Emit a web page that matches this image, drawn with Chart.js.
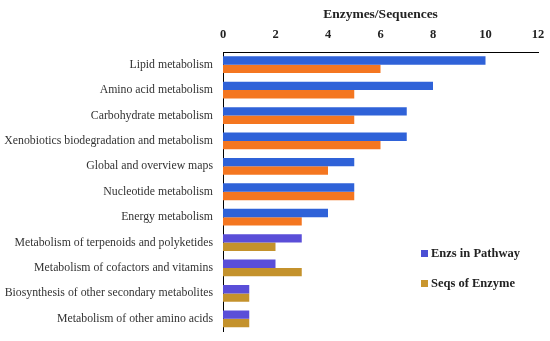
<!DOCTYPE html>
<html>
<head>
<meta charset="utf-8">
<script src="https://cdn.jsdelivr.net/npm/chart.js@4"></script>
<style>
  html, body { margin: 0; padding: 0; background: #fff; }
  #wrap { position: relative; width: 550px; height: 341px; }
  #pathChart { display: block; }
  #legend { position: absolute; left: 421px; top: 246px; font: bold 12.5px "Liberation Serif", serif; color: #222; }
  #legend div { height: 30px; display: flex; align-items: flex-start; }
  #legend span { display: inline-block; width: 7px; height: 7px; margin: 4px 3px 0 0; }
</style>
</head>
<body>
<div id="wrap">
  <canvas id="pathChart" width="550" height="341"></canvas>
  <div id="legend">
    <div><span style="background:#4b4fd4"></span>Enzs in Pathway</div>
    <div><span style="background:#c9962e"></span>Seqs of Enzyme</div>
  </div>
</div>
<script>
// categories and counts
const pathways = [
    "Lipid metabolism",
    "Amino acid metabolism",
    "Carbohydrate metabolism",
    "Xenobiotics biodegradation and metabolism",
    "Global and overview maps",
    "Nucleotide metabolism",
    "Energy metabolism",
    "Metabolism of terpenoids and polyketides",
    "Metabolism of cofactors and vitamins",
    "Biosynthesis of other secondary metabolites",
    "Metabolism of other amino acids"
];
const enzsInPathway = [10, 8, 7, 7, 5, 5, 4, 3, 2, 1, 1];
const seqsOfEnzyme = [6, 5, 5, 6, 4, 5, 3, 2, 3, 1, 1];
const xTicks = [0, 2, 4, 6, 8, 10, 12];

// bars toward the bottom look more purple / gold in the original
const blueCols = pathways.map((p, i) => i < 7 ? "#2f62d8" : "#5a4ed8");
const orangeCols = pathways.map((p, i) => i < 7 ? "#f47620" : "#c4922c");

new Chart(document.getElementById("pathChart"), {
    type: "bar",
    data: {
        labels: pathways,
        datasets: [{
            label: "Enzs in Pathway",
            data: enzsInPathway,
            backgroundColor: blueCols,
            barPercentage: 1,
            categoryPercentage: 0.66
        }, {
            label: "Seqs of Enzyme",
            data: seqsOfEnzyme,
            backgroundColor: orangeCols,
            barPercentage: 1,
            categoryPercentage: 0.66
        }]
    },
    options: {
        indexAxis: "y",
        responsive: false,
        animation: false,
        layout: { padding: { top: 6, right: 12, bottom: 9.5, left: 0 } },
        plugins: { legend: { display: false }, tooltip: { enabled: false } },
        scales: {
            x: {
                position: "top",
                min: 0,
                max: 12,
                afterBuildTicks: (axis) => { axis.ticks = xTicks.map(v => ({ value: v })); },
                afterFit: (axis) => { axis.paddingLeft = 0; axis.paddingRight = 0; },
                grid: { display: false, drawTicks: false },
                border: { color: "#000", width: 1 },
                ticks: {
                    color: "#222",
                    padding: 9.5,
                    font: { family: "Liberation Serif", size: 12.5, weight: "bold" }
                },
                title: {
                    display: true,
                    text: "Enzymes/Sequences",
                    color: "#222",
                    padding: { top: 0, bottom: -4.2 },
                    font: { family: "Liberation Serif", size: 13.5, weight: "bold" }
                }
            },
            y: {
                afterFit: (axis) => { axis.width = 223; axis.paddingTop = 0; axis.paddingBottom = 0; },
                grid: { display: false, drawTicks: false },
                border: { color: "#000", width: 1 },
                ticks: {
                    color: "#333",
                    padding: 10,
                    font: { family: "Liberation Serif", size: 11.8 }
                }
            }
        }
    }
});
</script>
</body>
</html>
